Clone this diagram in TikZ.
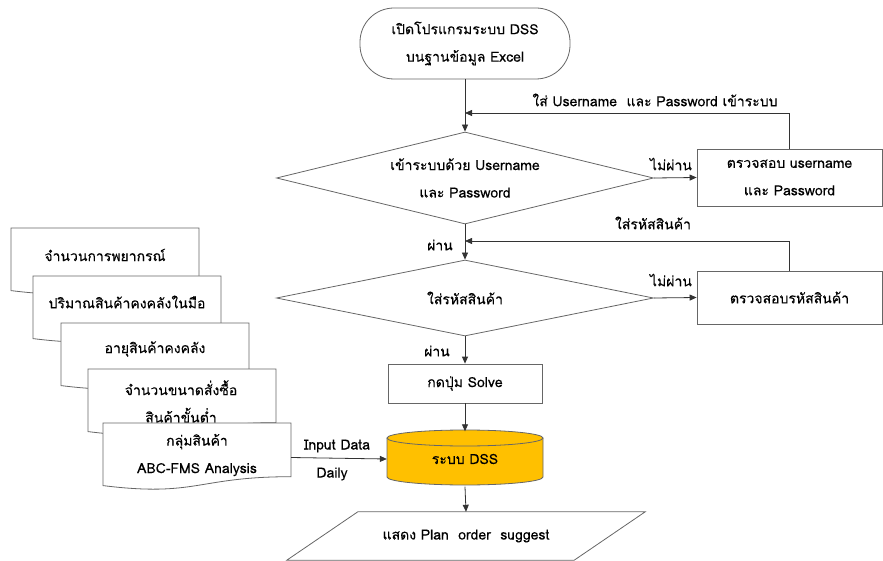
\documentclass[tikz,border=0pt]{standalone}
\usepackage{fontspec}
\setmainfont[Script=Thai,FakeBold=0.25]{Loma}
\usetikzlibrary{arrows.meta,shapes.geometric,calc}
\definecolor{dssgold}{HTML}{FFC000}
\definecolor{edge}{HTML}{666666}
\definecolor{wire}{HTML}{333333}

% document sheet with a wavy lower edge; #1 = left x, #2 = top y
\newcommand\docsheet[2]{%
  \filldraw[sheetline] (#1,#2) -- ({#1+188},#2) -- ({#1+188},{#2-53.7})
    .. controls ({#1+94},{#2-53.7}) and ({#1+94},{#2-74.2}) .. (#1,{#2-62.6}) -- cycle;}

\begin{document}
\begin{tikzpicture}[x=1pt,y=1pt,
  txt/.style={font=\fontsize{14}{27.5}\selectfont, align=center, inner sep=0pt},
  sheetline/.style={draw=edge, line width=0.8pt, fill=white},
  boxstyle/.style={rectangle, draw=edge, line width=0.8pt, fill=white, txt},
  decision/.style={diamond, draw=edge, line width=0.8pt, txt},
  conn/.style={draw=wire, line width=0.8pt, -{Triangle[length=7pt,width=6pt]}},
  lbl/.style={txt}]
\useasboundingbox (0,0) rectangle (883,-561);

% main column
\node[boxstyle, rounded corners=34pt, minimum width=210pt, minimum height=71pt]
  (start) at (465,-43.5) {เปิดโปรแกรมระบบ DSS\\บนฐานข้อมูล Excel};
\node[decision, aspect=4.1, minimum width=377pt, minimum height=92pt]
  (d1) at (465,-178) {เข้าระบบด้วย Username\\และ Password};
\node[boxstyle, minimum width=185pt, minimum height=57pt]
  (chk1) at (789.5,-177.5) {ตรวจสอบ username\\และ Password};
\node[decision, aspect=5, minimum width=377pt, minimum height=76pt]
  (d2) at (465,-298) {ใส่รหัสสินค้า};
\node[boxstyle, minimum width=185pt, minimum height=53pt]
  (chk2) at (789.5,-297.5) {ตรวจสอบรหัสสินค้า};
\node[boxstyle, minimum width=154pt, minimum height=39pt]
  (solve) at (465,-383.5) {กดปุ่ม Solve};

% DSS database cylinder
\fill[dssgold] (387,-438) -- (387,-477)
  arc[start angle=180, end angle=360, x radius=78pt, y radius=8pt]
  -- (543,-438) arc[start angle=0, end angle=180, x radius=78pt, y radius=8pt] -- cycle;
\draw[edge, line width=0.8pt] (387,-438) -- (387,-477)
  arc[start angle=180, end angle=360, x radius=78pt, y radius=8pt] -- (543,-438);
\draw[edge, line width=0.8pt] (465,-438) ellipse[x radius=78pt, y radius=8pt];
\node[txt, minimum width=156pt, minimum height=55pt] (dss) at (465,-459) {ระบบ DSS};

% output parallelogram
\node[txt, minimum width=287pt, minimum height=48pt] (out) at (466,-536)
  {แสดง Plan~ order~ suggest};
\draw[edge, line width=0.8pt]
  ($(out.north west)+(35.5,0)$) -- ($(out.north east)+(35.5,0)$)
  -- ($(out.south east)+(-35.5,0)$) -- ($(out.south west)+(-35.5,0)$) -- cycle;

% stacked input documents
\docsheet{11}{-228}
\node[txt] (doc1) at (105,-255) {จำนวนการพยากรณ์};
\docsheet{33}{-276}
\node[txt] (doc2) at (127,-302) {ปริมาณสินค้าคงคลังในมือ};
\docsheet{61}{-323}
\node[txt] (doc3) at (155,-349) {อายุสินค้าคงคลัง};
\docsheet{88}{-369}
\node[txt] (doc4) at (181,-401.5) {จำนวนขนาดสั่งซื้อ\\สินค้าขั้นต่ำ};
\docsheet{103}{-423}
\node[txt] (doc5) at (197,-455) {กลุ่มสินค้า\\ABC-FMS Analysis};
\coordinate (in5) at (291,-457.5);

% connectors
\coordinate (fb1) at (465,-113);
\coordinate (fb2) at (465,-241);
\draw[conn] (start.south) -- (d1.north);
\draw[conn] (d1.east) -- (chk1.west);
\draw[conn] (chk1.north) |- (fb1);
\draw[conn] (d1.south) -- (d2.north);
\draw[conn] (d2.east) -- (chk2.west);
\draw[conn] (chk2.north) |- (fb2);
\draw[conn] (d2.south) -- (solve.north);
\draw[conn] (solve.south) -- (dss.north);
\draw[conn] (dss.south) -- (out.north);
\draw[conn] (in5) -- (dss.west);

% connector labels
\node[lbl] (l1) at (655,-100) {ใส่ Username~ และ Password เข้าระบบ};
\node[lbl] (l2) at (671,-164) {ไม่ผ่าน};
\node[lbl] (l3) at (653,-223) {ใส่รหัสสินค้า};
\node[lbl] (l4) at (440,-245) {ผ่าน};
\node[lbl] (l5) at (671,-280) {ไม่ผ่าน};
\node[lbl] (l6) at (437,-351) {ผ่าน};
\node[lbl] (l7) at (337,-446) {Input Data};
\node[lbl] (l8) at (332,-474) {Daily};
\end{tikzpicture}
\end{document}
